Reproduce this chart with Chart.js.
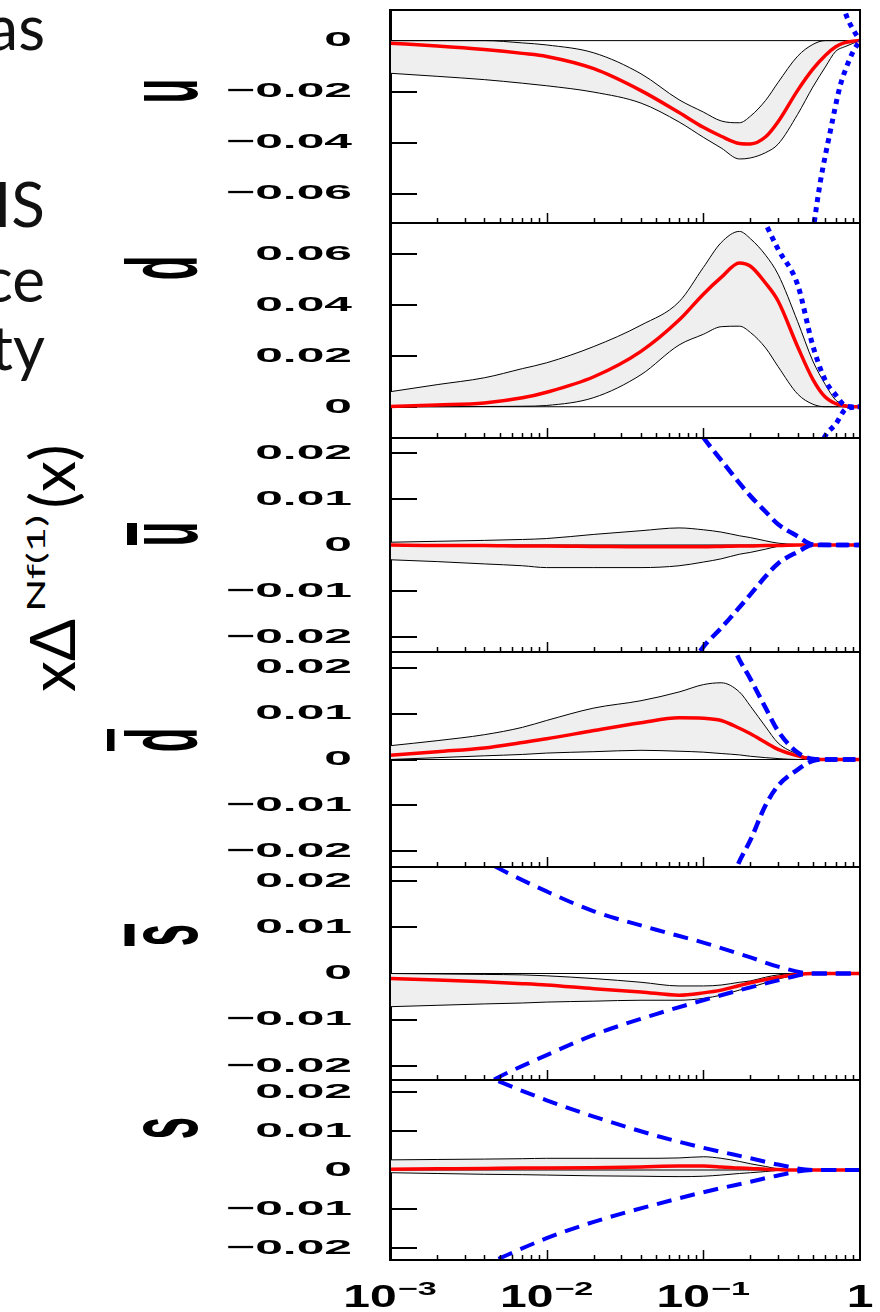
<!DOCTYPE html>
<html>
<head>
<meta charset="utf-8">
<title>Polarized PDF uncertainty bands</title>
<script src="https://cdn.jsdelivr.net/npm/chart.js@4.4.1/dist/chart.umd.min.js"></script>
<style>
  html, body { margin:0; padding:0; background:#fff; }
  #stage { position:relative; width:880px; height:1312px; overflow:hidden; background:#fff; }
  #stage canvas { position:absolute; left:0; }
  .side { position:absolute; left:-300px; width:345px; text-align:right; font-family:Lato,"Open Sans",sans-serif; font-size:62px; line-height:62px; color:#111; white-space:nowrap; }
  .pl { position:absolute; width:40px; height:40px; line-height:40px; font-family:"Liberation Sans",Arial,sans-serif; font-weight:bold; font-size:40px; text-align:center; color:#000; transform-origin:0 0; transform:scaleX(2.5) rotate(-90deg); white-space:nowrap; }
  .pl .bar { position:absolute; left:9px; width:22px; background:#000; }
  #yt { position:absolute; white-space:nowrap; font-family:Lato,"Open Sans",sans-serif; font-size:62px; line-height:62px; color:#000; transform-origin:0 0; transform:rotate(-90deg); }
  #yt .sup { display:inline-block; font-size:25px; line-height:25px; vertical-align:30px; transform-origin:0 0; transform:scaleX(1.75); }
</style>
</head>
<body>
<div id="stage">
  <div class="side" data-base="50">as</div>
  <div class="side" data-base="227">IS</div>
  <div class="side" data-base="302">ce</div>
  <div class="side" data-base="370">ty</div>
  <div id="yt"><span>x&#916;</span><span class="sup">Nf(1)</span><span>(x)</span></div>
  <div class="pl" data-cy="91">u</div>
  <div class="pl" data-cy="268">d</div>
  <div class="pl" data-cy="534" data-bar="27.6,4">u<span class="bar"></span></div>
  <div class="pl" data-cy="740" data-bar="36,3.4">d<span class="bar"></span></div>
  <div class="pl" data-cy="935" data-bar="28.8,3.4">s<span class="bar"></span></div>
  <div class="pl" data-cy="1128">s</div>
</div>
<script>
// ================= DATA =================
const xGrid = [0.001,0.002,0.004,0.007,0.01,0.02,0.04,0.07,0.1,0.13,0.17,0.2,0.25,0.3,0.4,0.5,0.6,0.7,0.8,0.9,1];
const zeroX = [0.001, 1];
const zeroY = [0, 0];

// u
const uCentral = [-0.0010,-0.0021,-0.0035,-0.0050,-0.0062,-0.0110,-0.0196,-0.0282,-0.0340,-0.0375,-0.0403,-0.0405,-0.0377,-0.0318,-0.0195,-0.0112,-0.0058,-0.0024,-0.0008,-0.0002,0];
const uUpper   = [0,0,0,-0.0009,-0.0017,-0.0048,-0.0130,-0.0232,-0.0280,-0.0315,-0.0322,-0.0296,-0.0234,-0.0164,-0.0061,-0.0015,0,0,0,0,0];
const uLower   = [-0.0128,-0.0140,-0.0153,-0.0167,-0.0177,-0.0202,-0.0245,-0.0319,-0.0379,-0.0421,-0.0464,-0.0460,-0.0439,-0.0406,-0.0289,-0.0182,-0.0104,-0.0042,-0.0024,-0.0011,0];
const uBoundX   = [0.5,0.556,0.644,0.745,0.822,0.9,1];
const uBoundUp  = [0.072,0.056,0.036,0.018,0.0095,0.0045,0];
const uBoundLow = [-0.075,-0.056,-0.036,-0.018,-0.0102,-0.0045,0];

// d
const dCentral = [0.0001,0.0007,0.0015,0.0035,0.0057,0.0118,0.0218,0.0341,0.0443,0.0509,0.0566,0.0553,0.0486,0.0416,0.0236,0.0108,0.0038,0.0012,0.0003,0,0];
const dUpper   = [0.0059,0.0087,0.0114,0.0150,0.0173,0.0237,0.0321,0.0413,0.0548,0.0646,0.0690,0.0661,0.0596,0.0521,0.0335,0.0180,0.0088,0.0026,0.0008,0.0002,0];
const dLower   = [0,0,0.0001,0.0002,0.0005,0.0036,0.0126,0.0243,0.0285,0.0315,0.0317,0.0292,0.0231,0.0158,0.0050,0.0010,0,0,0,0,0];
const dBoundX   = [0.2,0.25,0.3,0.4,0.5,0.6,0.7,0.8,0.9,1];
const dBoundUp  = [0.085,0.072,0.062,0.048,0.024,0.0104,0.0046,0.0005,0,0];
const dBoundLow = [-0.085,-0.072,-0.062,-0.048,-0.024,-0.0115,-0.0068,-0.0012,-0.0002,0];

// u-bar
const ubarCentral = [0,-0.0001,-0.0001,-0.0002,-0.0002,-0.0003,-0.0004,-0.0004,-0.0004,-0.0003,-0.0002,-0.0002,-0.0001,-0.0001,0,0,0,0,0,0,0];
const ubarUpper   = [0.0006,0.0008,0.0010,0.0012,0.0014,0.0023,0.0031,0.0037,0.0033,0.0028,0.0020,0.0016,0.0009,0.0004,0.0001,0,0,0,0,0,0];
const ubarLower   = [-0.0032,-0.0036,-0.0041,-0.0045,-0.0049,-0.0049,-0.0049,-0.0045,-0.0037,-0.0030,-0.0020,-0.0016,-0.0009,-0.0003,-0.0001,0,0,0,0,0,0];
const ubarBoundX   = [0.05,0.07,0.1,0.13,0.17,0.2,0.25,0.3,0.4,0.5,0.7,1];
const ubarBoundUp  = [0.040,0.031,0.0233,0.0184,0.0134,0.0106,0.0072,0.0045,0.0019,0.0001,0,0];
const ubarBoundLow = [-0.040,-0.030,-0.0221,-0.0180,-0.0135,-0.0107,-0.0068,-0.0040,-0.0015,0,0,0];

// d-bar
const dbarCentral = [0.0009,0.0017,0.0025,0.0037,0.0045,0.0063,0.0080,0.0091,0.0090,0.0085,0.0068,0.0056,0.0037,0.0022,0.0008,0.0001,0,0,0,0,0];
const dbarUpper   = [0.0030,0.0041,0.0054,0.0070,0.0085,0.0112,0.0128,0.0147,0.0163,0.0167,0.0147,0.0116,0.0071,0.0036,0.0012,0.0002,0,0,0,0,0];
const dbarLower   = [0,0.0004,0.0008,0.0011,0.0014,0.0017,0.0020,0.0018,0.0016,0.0013,0.0010,0.0007,0.0004,0.0002,0,0,0,0,0,0,0];
const dbarBoundX   = [0.1,0.13,0.163,0.2,0.25,0.3,0.4,0.5,0.6,0.8,1];
const dbarBoundUp  = [0.045,0.032,0.023,0.0175,0.0112,0.0062,0.0015,0.0001,0,0,0];
const dbarBoundLow = [-0.045,-0.034,-0.0236,-0.0175,-0.0099,-0.0057,-0.0022,-0.0003,0,0,0];

// s-bar
const sbarCentral = [-0.0011,-0.0014,-0.0018,-0.0022,-0.0025,-0.0033,-0.0040,-0.0047,-0.0042,-0.0036,-0.0026,-0.0020,-0.0013,-0.0008,-0.0002,0,0,0,0,0,0];
const sbarUpper   = [0,-0.0001,-0.0002,-0.0003,-0.0005,-0.0011,-0.0019,-0.0027,-0.0027,-0.0025,-0.0019,-0.0016,-0.0008,-0.0003,0,0,0,0,0,0,0];
const sbarLower   = [-0.0072,-0.0069,-0.0066,-0.0064,-0.0062,-0.0060,-0.0058,-0.0058,-0.0054,-0.0047,-0.0036,-0.0030,-0.0020,-0.0012,-0.0003,0,0,0,0,0,0];
const sbarBoundX   = [0.001,0.002,0.005,0.01,0.02,0.05,0.1,0.2,0.3,0.5,0.7,1];
const sbarBoundUp  = [0.036,0.030,0.0227,0.0178,0.0135,0.0095,0.0067,0.0035,0.0015,0,0,0];
const sbarBoundLow = [-0.036,-0.030,-0.0224,-0.0177,-0.0133,-0.0088,-0.0058,-0.0030,-0.0015,0,0,0];

// s
const sCentral = [0.0002,0.0003,0.0004,0.0005,0.0005,0.0006,0.0008,0.0010,0.0010,0.0008,0.0005,0.0004,0.0002,0.0001,0,0,0,0,0,0,0];
const sUpper   = [0.0026,0.0027,0.0028,0.0029,0.0030,0.0030,0.0030,0.0031,0.0034,0.0030,0.0022,0.0016,0.0009,0.0003,0,0,0,0,0,0,0];
const sLower   = [-0.0007,-0.0009,-0.0011,-0.0012,-0.0013,-0.0015,-0.0016,-0.0017,-0.0016,-0.0013,-0.0009,-0.0007,-0.0004,-0.0001,0,0,0,0,0,0,0];
const sBoundX   = [0.001,0.002,0.005,0.01,0.02,0.05,0.1,0.2,0.3,0.5,0.7,1];
const sBoundUp  = [0.036,0.030,0.0227,0.0179,0.0137,0.0088,0.0057,0.0030,0.0014,0,0,0];
const sBoundLow = [-0.036,-0.030,-0.0227,-0.0175,-0.0133,-0.0088,-0.0057,-0.0030,-0.0014,0,0,0];

// tick values / labels
const uTicks = [-0.06,-0.04,-0.02,0];
const dTicks = [0,0.02,0.04,0.06];
const seaTicks = [-0.02,-0.01,0,0.01,0.02];
const xTickValues = [0.001,0.01,0.1,1];
const xTickBase = ['10','10','10','1'];
const xTickExp  = ['\u22123','\u22122','\u22121',''];

// ================= LAYOUT / STYLE =================
const panels = [
  {c:uCentral,    up:uUpper,    lo:uLower,    bx:uBoundX,    bu:uBoundUp,    bl:uBoundLow,    ticks:uTicks,   min:-0.0715, max:0.0120, top:10,  bottom:223,  dash:[5,5],  bw:5},
  {c:dCentral,    up:dUpper,    lo:dLower,    bx:dBoundX,    bu:dBoundUp,    bl:dBoundLow,    ticks:dTicks,   min:-0.0123, max:0.0723, top:223, bottom:438,  dash:[5,5],  bw:5},
  {c:ubarCentral, up:ubarUpper, lo:ubarLower, bx:ubarBoundX, bu:ubarBoundUp, bl:ubarBoundLow, ticks:seaTicks, min:-0.0232, max:0.0232, top:438, bottom:652,  dash:[12,6], bw:4.5},
  {c:dbarCentral, up:dbarUpper, lo:dbarLower, bx:dbarBoundX, bu:dbarBoundUp, bl:dbarBoundLow, ticks:seaTicks, min:-0.0234, max:0.0234, top:652, bottom:867,  dash:[12,6], bw:4.5},
  {c:sbarCentral, up:sbarUpper, lo:sbarLower, bx:sbarBoundX, bu:sbarBoundUp, bl:sbarBoundLow, ticks:seaTicks, min:-0.0231, max:0.0231, top:867, bottom:1080, dash:[15,9], bw:4},
  {c:sCentral,    up:sUpper,    lo:sLower,    bx:sBoundX,    bu:sBoundUp,    bl:sBoundLow,    ticks:seaTicks, min:-0.0231, max:0.0231, top:1080,bottom:1260, dash:[15,9], bw:4}
];

const LABEL_RIGHT = 352;   // right edge of y tick labels
const LABEL_STRETCH = 2.37;
const fmt = v => v === 0 ? '0' : (v < 0 ? '\u2212' : '') + Math.abs(v).toFixed(2);
const pts = (xs, ys) => xs.map((x, k) => ({x: x, y: ys[k]}));

const framePlugin = {
  id: 'frame',
  afterDraw(chart) {
    const {ctx, chartArea: a} = chart;
    const x = chart.scales.x;
    ctx.save();
    ctx.strokeStyle = '#000';
    ctx.lineWidth = 2;
    ctx.strokeRect(a.left, a.top, a.right - a.left, a.bottom - a.top);
    ctx.lineWidth = 1.5;
    ctx.beginPath();
    for (let d = -3; d <= -1; d++) {
      for (let m = 1; m <= 9; m++) {
        const v = m * Math.pow(10, d);
        const px = Math.round(x.getPixelForValue(v)) + 0.5;
        const len = m === 1 ? 10 : 5;
        ctx.moveTo(px, a.bottom);
        ctx.lineTo(px, a.bottom - len);
      }
    }
    ctx.stroke();
    ctx.restore();
  }
};

const xLabelPlugin = {
  id: 'xlabels',
  afterDraw(chart) {
    const {ctx, chartArea: a} = chart;
    const x = chart.scales.x;
    const baseY = a.bottom + 47;
    const SB = 1.55, SE = 1.8;
    ctx.save();
    ctx.fillStyle = '#000';
    ctx.textAlign = 'left';
    ctx.textBaseline = 'alphabetic';
    xTickValues.forEach((v, i) => {
      const px = x.getPixelForValue(v);
      ctx.font = 'bold 31px "Liberation Sans", Arial, sans-serif';
      const wb = ctx.measureText(xTickBase[i]).width * SB;
      ctx.font = 'bold 19px "Liberation Sans", Arial, sans-serif';
      const we = xTickExp[i] ? ctx.measureText(xTickExp[i]).width * SE : 0;
      const gap = xTickExp[i] ? 1 : 0;
      const sx = px - (wb + gap + we) / 2;
      ctx.save();
      ctx.font = 'bold 31px "Liberation Sans", Arial, sans-serif';
      ctx.translate(sx, baseY); ctx.scale(SB, 1);
      ctx.fillText(xTickBase[i], 0, 0);
      ctx.restore();
      if (xTickExp[i]) {
        ctx.save();
        ctx.font = 'bold 19px "Liberation Sans", Arial, sans-serif';
        ctx.translate(sx + wb + gap, baseY - 12); ctx.scale(SE, 1);
        ctx.fillText(xTickExp[i], 0, 0);
        ctx.restore();
      }
    });
    ctx.restore();
  }
};

const stage = document.getElementById('stage');

panels.forEach((p, i) => {
  const isLast = i === panels.length - 1;
  const padTop = 20;
  const padBot = isLast ? 1312 - p.bottom : 20;
  const cv = document.createElement('canvas');
  cv.width = 880;
  cv.height = (p.bottom - p.top) + padTop + padBot;
  cv.style.top = (p.top - padTop) + 'px';
  stage.appendChild(cv);

  const common = {pointRadius: 0, pointHoverRadius: 0, clip: 0, cubicInterpolationMode: 'monotone', fill: false};
  new Chart(cv, {
    type: 'line',
    data: {
      datasets: [
        {...common, label: 'upper', data: pts(xGrid, p.up), borderColor: '#000', borderWidth: 1, fill: '+1', backgroundColor: '#efefef', order: 5},
        {...common, label: 'lower', data: pts(xGrid, p.lo), borderColor: '#000', borderWidth: 1, order: 4},
        {...common, label: 'zero', data: pts(zeroX, zeroY), borderColor: '#000', borderWidth: 1, cubicInterpolationMode: 'default', order: 3},
        {...common, label: 'central', data: pts(xGrid, p.c), borderColor: '#ff0000', borderWidth: 3.5, borderCapStyle: 'round', borderJoinStyle: 'round', order: 2},
        {...common, label: 'bound+', data: pts(p.bx, p.bu), borderColor: '#0000ff', borderWidth: p.bw, borderDash: p.dash, order: 1},
        {...common, label: 'bound-', data: pts(p.bx, p.bl), borderColor: '#0000ff', borderWidth: p.bw, borderDash: p.dash, order: 1}
      ]
    },
    options: {
      responsive: false,
      animation: false,
      devicePixelRatio: 1,
      events: [],
      layout: {padding: {left: 0, right: 20, top: padTop, bottom: padBot}},
      plugins: {legend: {display: false}, tooltip: {enabled: false}},
      scales: {
        x: {type: 'logarithmic', min: 0.001, max: 1, display: false},
        y: {
          type: 'linear', position: 'left', min: p.min, max: p.max,
          afterBuildTicks(s) { s.ticks = p.ticks.map(v => ({value: v})); },
          afterFit(s) {
            s.width = 390;
            s.paddingTop = 0; s.paddingBottom = 0; s.paddingLeft = 0; s.paddingRight = 0;
            if (!s._stretchPatched) {
              const orig = s.drawLabels;
              s.drawLabels = function (ca) {
                const c = this.ctx;
                c.save();
                c.translate(LABEL_RIGHT, 0); c.scale(LABEL_STRETCH, 1); c.translate(-LABEL_RIGHT, 0);
                orig.call(this, ca);
                c.restore();
              };
              s._stretchPatched = true;
            }
          },
          grid: {drawOnChartArea: false, drawTicks: true, tickLength: -27, color: '#000', tickColor: '#000', tickWidth: 2, lineWidth: 2},
          border: {display: true, color: '#000', width: 3},
          ticks: {padding: 65, autoSkip: false, color: '#000', font: {family: '"Liberation Sans", Arial, sans-serif', size: 21, weight: 'bold'}, callback: v => fmt(v)}
        }
      }
    },
    plugins: isLast ? [framePlugin, xLabelPlugin] : [framePlugin]
  });
});

// ================= HTML TEXT PLACEMENT =================
function baselineOf(el) {
  const m = document.createElement('span');
  m.style.display = 'inline-block'; m.style.width = '0'; m.style.height = '0';
  el.appendChild(m);
  const b = m.offsetTop;
  el.removeChild(m);
  return b;
}
function layoutText() {
  document.querySelectorAll('.side').forEach(el => {
    const b = baselineOf(el);
    el.style.top = (parseFloat(el.dataset.base) - b) + 'px';
  });
  document.querySelectorAll('.pl').forEach(el => {
    const b = baselineOf(el);
    el.style.left = (197 - 2.5 * b) + 'px';
    el.style.top = (parseFloat(el.dataset.cy) + 20) + 'px';
    if (el.dataset.bar) {
      const [above, th] = el.dataset.bar.split(',').map(Number);
      const bar = el.querySelector('.bar');
      bar.style.top = (b - above) + 'px';
      bar.style.height = th + 'px';
    }
  });
  const yt = document.getElementById('yt');
  const sup = yt.querySelector('.sup');
  sup.style.marginRight = '0px';
  sup.style.marginRight = (sup.offsetWidth * 0.75 + 7) + 'px';
  sup.style.marginLeft = '7px';
  const b = baselineOf(yt);
  yt.style.left = (75 - b) + 'px';
  yt.style.top = '692px';
}
layoutText();
if (document.fonts && document.fonts.ready) document.fonts.ready.then(layoutText);
</script>
</body>
</html>
